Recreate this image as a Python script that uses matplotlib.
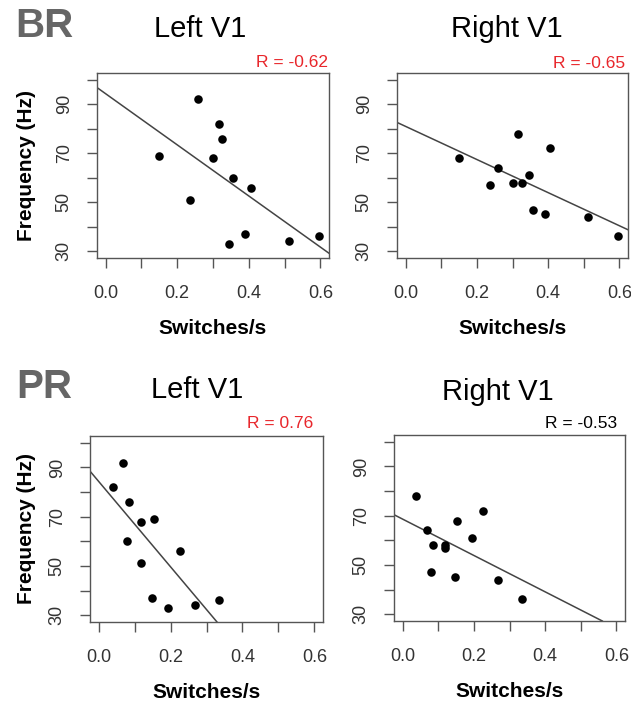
import numpy as np
import matplotlib.pyplot as plt

plt.rcParams['font.family'] = ['Liberation Sans', 'DejaVu Sans']

# 12 subjects: switch rates (BR = binocular rivalry, PR = perceptual rivalry)
br_rate = [0.150, 0.236, 0.259, 0.300, 0.316, 0.326, 0.346, 0.357, 0.390, 0.406, 0.512, 0.595]
pr_rate = [0.154, 0.119, 0.069, 0.119, 0.039, 0.084, 0.194, 0.079, 0.148, 0.225, 0.268, 0.335]
# peak frequency per hemisphere (Hz)
freq_left = [69, 51, 92, 68, 82, 76, 33, 60, 37, 56, 34, 36]
freq_right = [68, 57, 64, 58, 78, 58, 61, 47, 45, 72, 44, 36]
r_labels = ["R = -0.62", "R = -0.65", "R = 0.76", "R = -0.53"]
r_colors = ["#e8262b", "#e8262b", "#e8262b", "black"]
titles = ["Left V1", "Right V1", "Left V1", "Right V1"]

W, H = 631, 704
fig = plt.figure(figsize=(W / 100, H / 100), dpi=100)

def px_rect(left, right, top, bottom):
    return [left / W, 1 - bottom / H, (right - left) / W, (bottom - top) / H]

def ftext(x, y, s, **kw):
    fig.text(x / W, 1 - y / H, s, **kw)

# axes boxes in pixels: left, right, top, bottom
boxes = [(97, 329, 73, 258), (397, 628, 73, 258),
         (90, 323, 436, 622), (394, 625, 435, 621)]
xs = [br_rate, br_rate, pr_rate, pr_rate]
ys = [freq_left, freq_right, freq_left, freq_right]
title_pos = [(200, 37), (507, 37), (197, 398), (498, 400)]
r_pos = [(328, 67), (625, 68), (313, 428), (617, 428)]

for i in range(4):
    b = boxes[i]
    ax = fig.add_axes(px_rect(*b))
    x = np.array(xs[i])
    y = np.array(ys[i])
    ax.scatter(x, y, s=38, color="black", zorder=3, linewidths=0)
    m, c = np.polyfit(x, y, 1)
    ax.axline((0, c), slope=m, color="#444444", lw=1.1, zorder=2)
    ax.set_xlim(-0.024, 0.624)
    ax.set_ylim(27.2, 102.8)
    ax.set_xticks(np.arange(0, 0.61, 0.1))
    ax.set_xticklabels(["0.0", "", "0.2", "", "0.4", "", "0.6"])
    ax.set_yticks(np.arange(30, 101, 10))
    ax.set_yticklabels(["30", "", "50", "", "70", "", "90", ""])
    for sp in ax.spines.values():
        sp.set_color("#555555")
        sp.set_linewidth(1.0)
    ax.tick_params(axis="both", direction="out", length=7.5, width=1.0,
                   color="#555555", labelsize=13, labelcolor="#333333")
    ax.tick_params(axis="x", pad=12)
    ax.tick_params(axis="y", pad=10, labelrotation=90)
    for lab in ax.get_yticklabels():
        lab.set_va("center")
    ax.set_xlabel("Switches/s", fontsize=15, fontweight="bold", labelpad=12)
    if i % 2 == 0:
        ftext(27, (b[2] + b[3]) / 2, "Frequency (Hz)", fontsize=15,
              fontweight="bold", rotation=90, ha="center", va="center")
    ftext(title_pos[i][0], title_pos[i][1], titles[i], fontsize=21,
          ha="center", va="baseline")
    ftext(r_pos[i][0], r_pos[i][1], r_labels[i], fontsize=12.5,
          color=r_colors[i], ha="right", va="baseline")

ftext(15, 37, "BR", fontsize=29, fontweight="bold", color="#666666",
      ha="left", va="baseline")
ftext(16, 398, "PR", fontsize=29, fontweight="bold", color="#666666",
      ha="left", va="baseline")

fig.savefig("out.png", dpi=100)
